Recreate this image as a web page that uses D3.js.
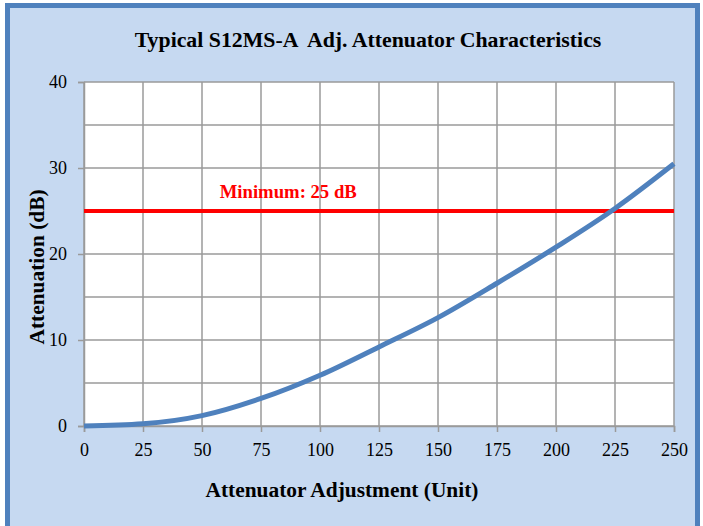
<!DOCTYPE html>
<html>
<head>
<meta charset="utf-8">
<script src="https://cdn.jsdelivr.net/npm/d3@7"></script>
<style>
  body { margin: 0; background: #fff; }
  svg { display: block; }
  text { font-family: "Liberation Serif", "Times New Roman", serif; }
</style>
</head>
<body>
<svg id="chart" width="703" height="526"></svg>
<script>
// values
const adjustment = [0, 25, 50, 75, 100, 125, 150, 175, 200, 225, 250];
const attenuation = [0, 0.25, 1.2, 3.2, 5.9, 9.2, 12.6, 16.6, 20.8, 25.3, 30.5];
const minimumLevel = 25;
const xTicks = [0, 25, 50, 75, 100, 125, 150, 175, 200, 225, 250];
const yTicks = [0, 10, 20, 30, 40];
const yMinor = [5, 15, 25, 35];

const svg = d3.select('#chart');

// frame
svg.append('rect')
  .attr('x', 7.5).attr('y', 5.5)
  .attr('width', 690).attr('height', 540)
  .attr('fill', '#c6d9f1')
  .attr('stroke', '#4f81bd')
  .attr('stroke-width', 5);

const margin = {top: 82, left: 84, right: 29, bottom: 100};
const width = 703 - margin.left - margin.right;
const height = 526 - margin.top - margin.bottom;

const g = svg.append('g')
  .attr('transform', `translate(${margin.left}, ${margin.top})`);

const x = d3.scaleLinear().domain([0, 250]).range([0, width]);
const y = d3.scaleLinear().domain([0, 40]).range([height, 0]);

g.append('rect')
  .attr('width', width).attr('height', height)
  .attr('fill', '#fff');

// grid
g.selectAll('.ygrid')
  .data(yTicks.concat(yMinor))
  .enter()
  .append('line')
  .attr('x1', 0).attr('x2', width)
  .attr('y1', d => y(d)).attr('y2', d => y(d))
  .attr('stroke', '#9a9a9a').attr('stroke-width', 1.5);

g.selectAll('.xgrid')
  .data(xTicks)
  .enter()
  .append('line')
  .attr('x1', d => x(d)).attr('x2', d => x(d))
  .attr('y1', 0).attr('y2', height)
  .attr('stroke', '#9a9a9a').attr('stroke-width', 1.5);

// axes
const xAxis = g.append('g')
  .attr('transform', `translate(0, ${height})`)
  .call(d3.axisBottom(x).tickValues(xTicks).tickSize(6).tickPadding(11));

const yAxis = g.append('g')
  .call(d3.axisLeft(y).tickValues(yTicks).tickSize(6).tickPadding(11));

[xAxis, yAxis].forEach(a => {
  a.attr('font-family', null).attr('font-size', null);
  a.select('.domain').attr('stroke', '#9a9a9a').attr('stroke-width', 1.5);
  a.selectAll('.tick line').attr('stroke', '#9a9a9a').attr('stroke-width', 1.5);
  a.selectAll('.tick text')
    .attr('fill', '#000')
    .style('font-size', '18px');
});

// minimum line
g.append('line')
  .attr('x1', 0).attr('x2', width)
  .attr('y1', y(minimumLevel)).attr('y2', y(minimumLevel))
  .attr('stroke', '#ff0000').attr('stroke-width', 4);

g.append('text')
  .attr('x', x(57.5))
  .attr('y', y(minimumLevel) - 13)
  .attr('fill', '#ff0000')
  .style('font-weight', 'bold')
  .style('font-size', '18.7px')
  .text('Minimum: 25 dB');

// curve
const line = d3.line()
  .x((d, i) => x(adjustment[i]))
  .y(d => y(d))
  .curve(d3.curveMonotoneX);

g.append('path')
  .datum(attenuation)
  .attr('d', line)
  .attr('fill', 'none')
  .attr('stroke', '#4f81bd')
  .attr('stroke-width', 5);

// titles
svg.append('text')
  .attr('x', 368).attr('y', 47)
  .attr('text-anchor', 'middle')
  .attr('xml:space', 'preserve')
  .style('white-space', 'pre')
  .style('font-weight', 'bold')
  .style('font-size', '21.8px')
  .text('Typical S12MS-A  Adj. Attenuator Characteristics');

svg.append('text')
  .attr('x', 342).attr('y', 497)
  .attr('text-anchor', 'middle')
  .style('font-weight', 'bold')
  .style('font-size', '21.4px')
  .text('Attenuator Adjustment (Unit)');

svg.append('text')
  .attr('transform', 'translate(44, 267) rotate(-90)')
  .attr('text-anchor', 'middle')
  .style('font-weight', 'bold')
  .style('font-size', '21.4px')
  .text('Attenuation (dB)');
</script>
</body>
</html>
